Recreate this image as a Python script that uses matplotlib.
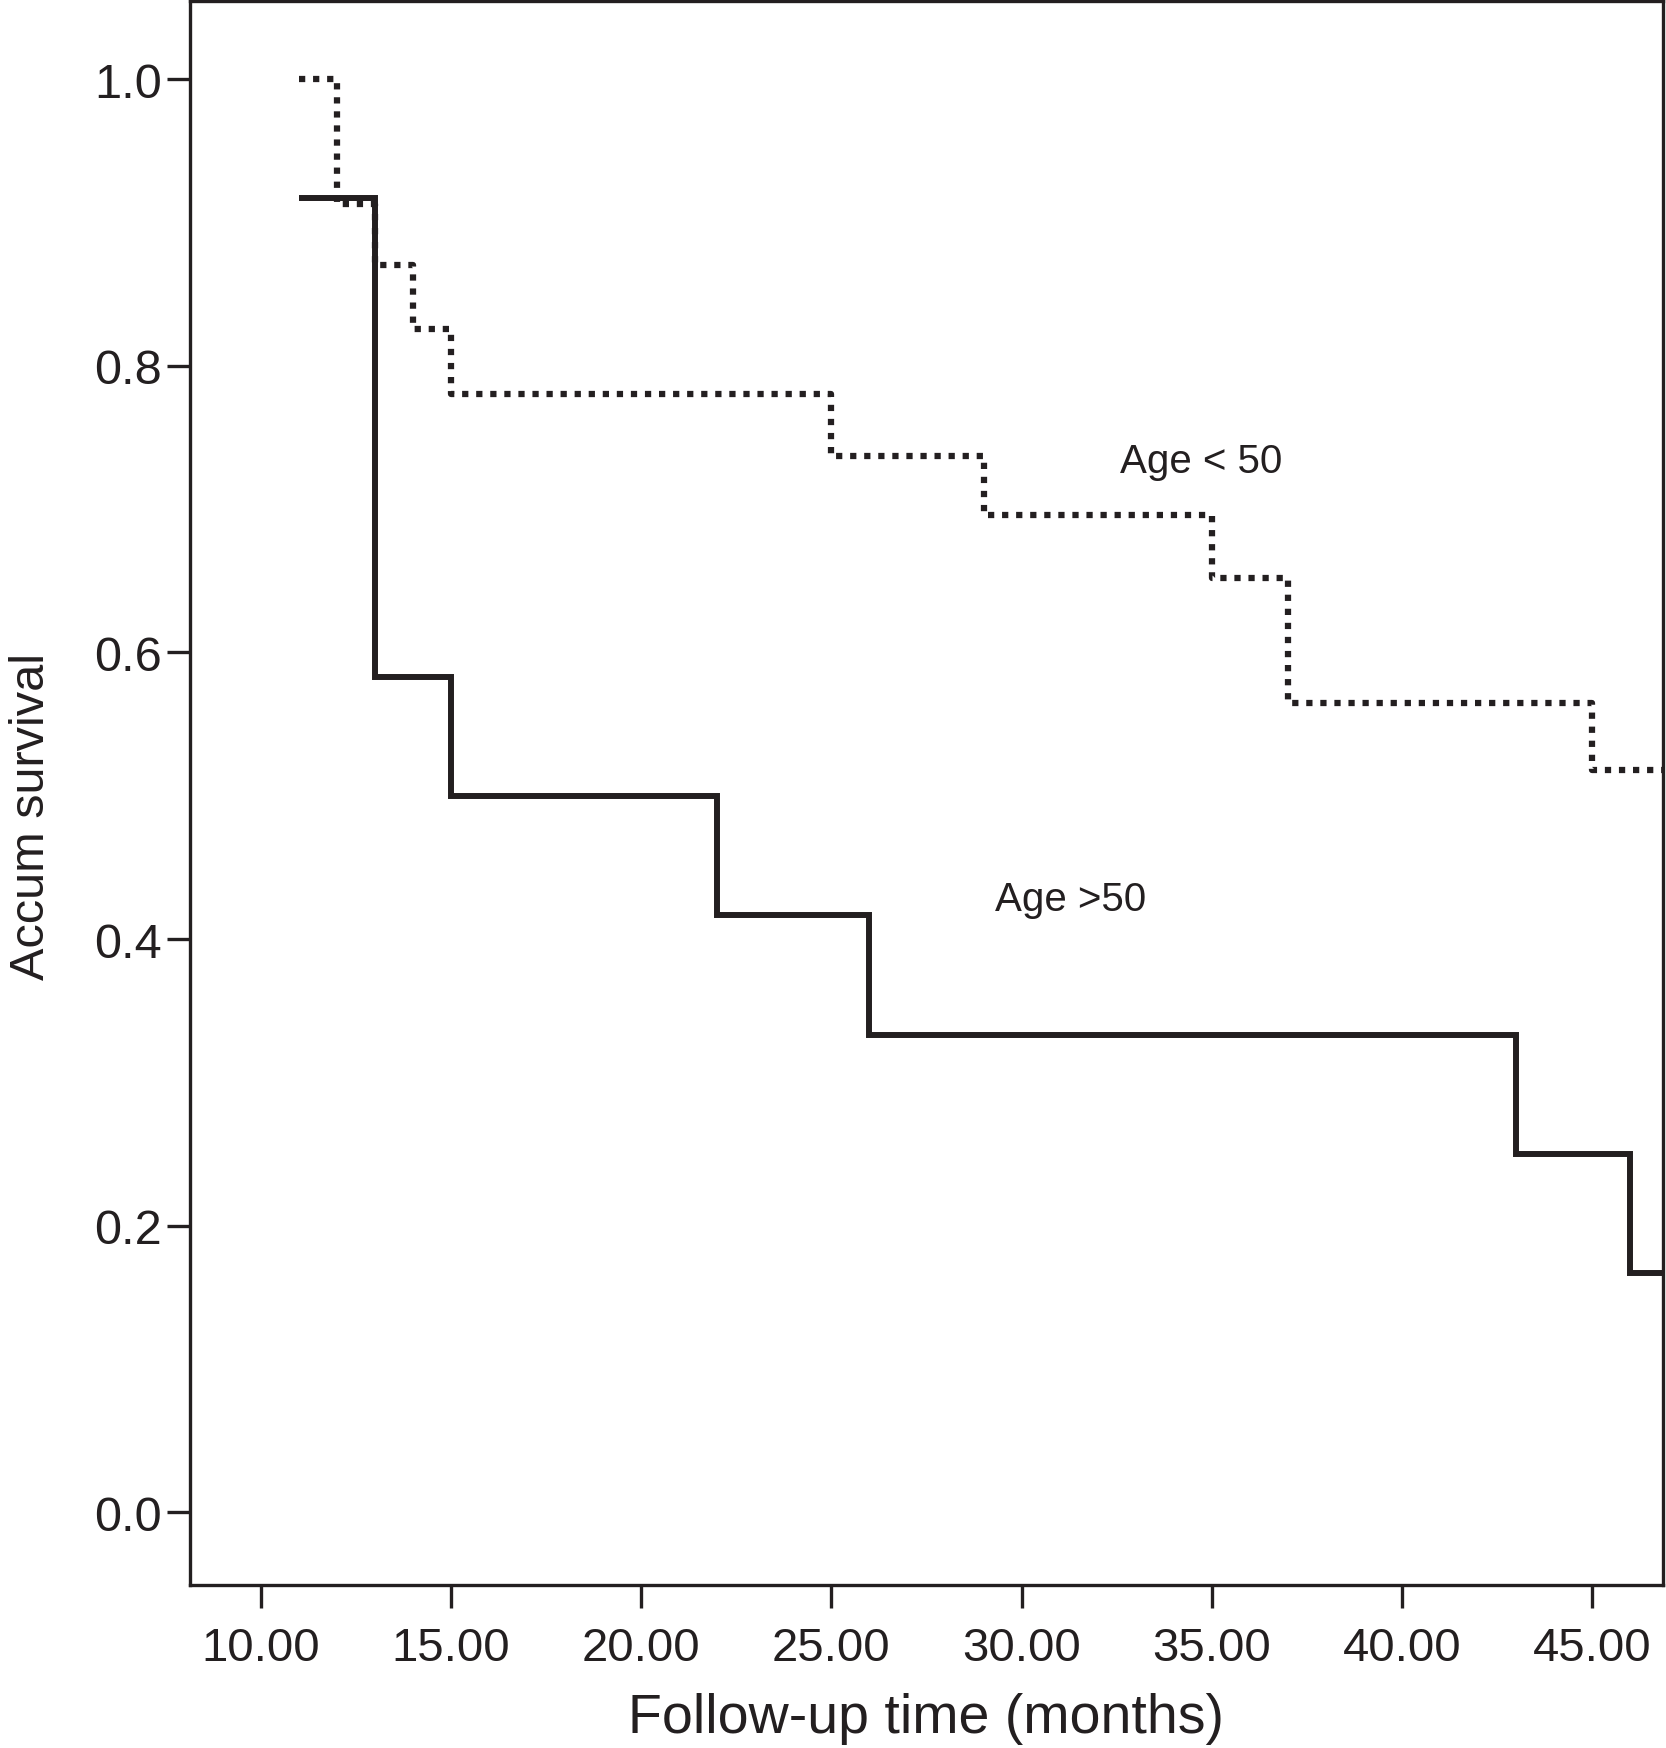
import matplotlib
matplotlib.use("Agg")
import matplotlib.pyplot as plt

plt.rcParams['font.family'] = ['Liberation Sans', 'DejaVu Sans']

# Kaplan-Meier steps
temps_plus50 = [11, 13, 15, 22, 26, 43, 46, 47]
surv_plus50 = [0.917, 0.583, 0.500, 0.417, 0.333, 0.250, 0.167, 0.167]

temps_moins50 = [11, 12, 13, 14, 15, 25, 29, 35, 37, 45, 47]
surv_moins50 = [1.000, 0.913, 0.870, 0.826, 0.780, 0.737, 0.696, 0.652, 0.565, 0.518, 0.518]

x_ticks = [10, 15, 20, 25, 30, 35, 40, 45]
y_ticks = [0.0, 0.2, 0.4, 0.6, 0.8, 1.0]

noir = '#231f20'

fig = plt.figure(figsize=(16.66, 17.49), dpi=100)
ax = fig.add_axes([0.114, 0.0932, 0.884, 0.9057])

# courbe Age >50 (trait plein)
ax.step(temps_plus50, surv_plus50, where='post', color=noir, lw=4.3,
        solid_capstyle='butt', solid_joinstyle='miter')

# courbe Age < 50 (pointillés)
ax.step(temps_moins50, surv_moins50, where='post', color=noir, lw=4.5,
        linestyle=(0, (1, 1.25)), dash_capstyle='butt')

ax.text(32.6, 0.726, "Age < 50", fontsize=29, color=noir, va='baseline', ha='left')
ax.text(29.3, 0.420, "Age >50", fontsize=29, color=noir, va='baseline', ha='left')

ax.set_xlim(8.13, 46.86)
ax.set_ylim(-0.0507, 1.0546)

ax.set_xticks(x_ticks)
ax.set_xticklabels([f"{v:.2f}" for v in x_ticks])
ax.set_yticks(y_ticks)
ax.set_yticklabels([f"{v:.1f}" for v in y_ticks])

ax.tick_params(axis='both', direction='out', length=16.5, width=2.4,
               color=noir, labelcolor=noir, labelsize=34)
ax.tick_params(axis='y', pad=3.5, labelsize=35)
ax.tick_params(axis='x', pad=13)

for sp in ax.spines.values():
    sp.set_linewidth(2.4)
    sp.set_color(noir)

ax.set_xlabel("Follow-up time (months)", fontsize=40, color=noir, labelpad=16)
ax.set_ylabel("Accum survival", fontsize=35, color=noir)
ax.yaxis.set_label_coords(-0.092, 0.486)

fig.savefig("out.png", dpi=100)
